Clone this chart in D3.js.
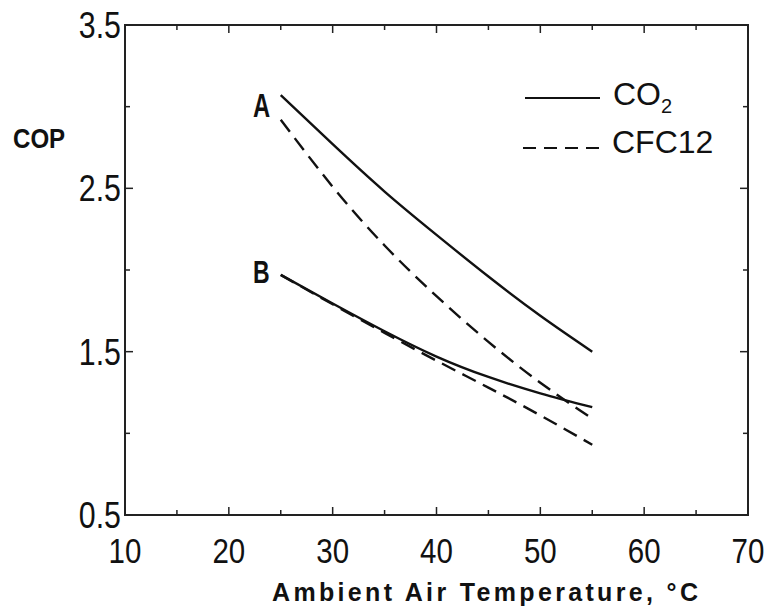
<!DOCTYPE html>
<html>
<head>
<meta charset="utf-8">
<script src="https://cdn.jsdelivr.net/npm/d3@7"></script>
<style>
body { margin: 0; background: #fff; }
text { font-family: "Liberation Sans", Arial, sans-serif; fill: #111; }
</style>
</head>
<body>
<svg id="chart" width="774" height="612"></svg>
<script>
const svg = d3.select("#chart");

// temperatures (deg C) and COP values
const temps = [25, 30, 35, 40, 45, 50, 55];
const co2A = [3.07, 2.77, 2.48, 2.215, 1.96, 1.72, 1.5];
const cfcA = [2.92, 2.51, 2.15, 1.84, 1.56, 1.31, 1.09];
const co2B = [1.97, 1.795, 1.625, 1.47, 1.345, 1.245, 1.16];
const cfcB = [1.97, 1.79, 1.615, 1.445, 1.28, 1.11, 0.93];
const xTicks = [10, 20, 30, 40, 50, 60, 70];
const yTicks = [0.5, 1.5, 2.5, 3.5];

const pl = 125, pr = 748, pt = 25, pb = 515;
const x = d3.scaleLinear().domain([10, 70]).range([pl, pr]);
const y = d3.scaleLinear().domain([0.5, 3.5]).range([pb, pt]);

// frame
svg.append("rect")
    .attr("x", pl).attr("y", pt)
    .attr("width", pr - pl).attr("height", pb - pt)
    .attr("fill", "none").attr("stroke", "#222").attr("stroke-width", 2);

// inside ticks, major + minor
const xMinor = d3.range(10, 70.1, 5);
const yMinor = d3.range(0.5, 3.51, 0.5);
const tk = svg.append("g").attr("stroke", "#222").attr("stroke-width", 1.5);
xMinor.forEach(v => {
    const len = v % 10 === 0 ? 8 : 5;
    tk.append("line").attr("x1", x(v)).attr("x2", x(v)).attr("y1", pb).attr("y2", pb - len);
    tk.append("line").attr("x1", x(v)).attr("x2", x(v)).attr("y1", pt).attr("y2", pt + len);
});
yMinor.forEach(v => {
    const len = yTicks.includes(+v.toFixed(1)) ? 8 : 5;
    tk.append("line").attr("y1", y(v)).attr("y2", y(v)).attr("x1", pl).attr("x2", pl + len);
    tk.append("line").attr("y1", y(v)).attr("y2", y(v)).attr("x1", pr).attr("x2", pr - len);
});

// condensed text helper
function label(px, py, str, size, sx, anchor, weight) {
    return svg.append("text")
        .attr("transform", `translate(${px},${py}) scale(${sx},1)`)
        .attr("text-anchor", anchor || "start")
        .attr("font-size", size)
        .attr("font-weight", weight || "normal")
        .text(str);
}

// tick labels
xTicks.forEach(d => label(x(d), 563, d, 36, 0.82, "middle"));
yTicks.forEach(d => label(pl - 4, y(d) + 13, d.toFixed(1), 37, 0.82, "end"));

// axis titles
label(13, 148, "COP", 28, 0.86, "start", "bold");
svg.append("text").attr("x", 272).attr("y", 601)
    .attr("font-family", "DejaVu Sans, sans-serif")
    .attr("font-size", 25).attr("font-weight", "bold")
    .attr("textLength", 426).attr("lengthAdjust", "spacing")
    .text("Ambient Air Temperature, \u00B0C");

// curves
const line = d3.line().x(d => x(d[0])).y(d => y(d[1])).curve(d3.curveNatural);
const series = [
    {vals: co2A, dash: null},
    {vals: cfcA, dash: "15,8"},
    {vals: co2B, dash: null},
    {vals: cfcB, dash: "15,8"}
];
series.forEach(s => {
    svg.append("path")
        .datum(temps.map((t, i) => [t, s.vals[i]]))
        .attr("d", line)
        .attr("fill", "none").attr("stroke", "#111").attr("stroke-width", 2.4)
        .attr("stroke-dasharray", s.dash);
});

// curve labels
label(253, 117, "A", 33, 0.72, "start", "bold");
label(253, 283, "B", 32, 0.72, "start", "bold");

// legend
const lg = svg.append("g");
lg.append("line").attr("x1", 525).attr("x2", 600).attr("y1", 98).attr("y2", 98)
    .attr("stroke", "#111").attr("stroke-width", 2.2);
lg.append("line").attr("x1", 523).attr("x2", 600).attr("y1", 148).attr("y2", 148)
    .attr("stroke", "#111").attr("stroke-width", 2.2).attr("stroke-dasharray", "13,8");
const co2t = lg.append("text").attr("x", 613).attr("y", 105).attr("font-size", 32);
co2t.append("tspan").text("CO");
co2t.append("tspan").attr("font-size", 20).attr("dy", 8).text("2");
lg.append("text").attr("x", 612).attr("y", 153).attr("font-size", 32).text("CFC12");
</script>
</body>
</html>
